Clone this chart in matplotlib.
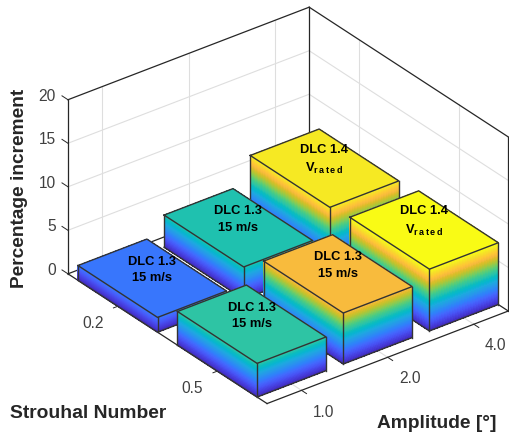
import numpy as np
import matplotlib
matplotlib.use('Agg')
import matplotlib.pyplot as plt
from matplotlib.colors import LinearSegmentedColormap, Normalize
from mpl_toolkits.mplot3d import proj3d

plt.rcParams['font.family'] = ['Liberation Sans', 'DejaVu Sans']
plt.rcParams['mathtext.fontset'] = 'custom'
plt.rcParams['mathtext.bf'] = 'Liberation Sans:bold'
plt.rcParams['mathtext.rm'] = 'Liberation Sans'

# data
strouhal = ['0.2', '0.5']
amplitude = ['1.0', '2.0', '4.0']
increment = [[1.7, 3.7, 6.75],   # St 0.2
             [3.87, 5.86, 7.1]]  # St 0.5
vrated = 'DLC 1.4\n$\\mathbf{V_{r\\,a\\,t\\,e\\,d}}$'
labels = [['DLC 1.3\n15 m/s', 'DLC 1.3\n15 m/s', vrated],
          ['DLC 1.3\n15 m/s', 'DLC 1.3\n15 m/s', vrated]]
z_ticks = [0, 5, 10, 15, 20]

# parula, index in the 64 entry table -> colour
parula_idx = [0, 4, 9, 13, 17, 21, 25, 28, 31, 34, 37, 40, 43, 46, 49, 52, 55, 58, 61, 63]
parula_rgb = [
    (0.2422, 0.1504, 0.6603), (0.2706, 0.2147, 0.8364), (0.2810, 0.3228, 0.9579),
    (0.2602, 0.4123, 0.9952), (0.1834, 0.5074, 0.9798), (0.1540, 0.5902, 0.9218),
    (0.1113, 0.6635, 0.8763), (0.0297, 0.7082, 0.8163), (0.0433, 0.7411, 0.7394),
    (0.1717, 0.7670, 0.6554), (0.2470, 0.7918, 0.5567), (0.3909, 0.8029, 0.4354),
    (0.5616, 0.7942, 0.3045), (0.7242, 0.7698, 0.1910), (0.8634, 0.7406, 0.1596),
    (0.9728, 0.7298, 0.2394), (0.9952, 0.7893, 0.2028), (0.9676, 0.8639, 0.1643),
    (0.9628, 0.9373, 0.1265), (0.9769, 0.9839, 0.0805)]
parula = LinearSegmentedColormap.from_list(
    'parula', [(i / 63, c) for i, c in zip(parula_idx, parula_rgb)], N=256)

W, H = 509, 433
fig = plt.figure(figsize=(W / 100, H / 100), dpi=100)
S = 475.4
ax = fig.add_axes([44 / W, -16.5 / H, S / W, S / H], projection='3d', proj_type='ortho')
ax.computed_zorder = False
ax.view_init(elev=30, azim=-37.5)
ax.set_box_aspect((327, 304, 201))
ax.set_xticks([])
ax.set_yticks([])
ax.set_zticks([])
ax.set_axis_off()

xlim = (0.5, 2.5)
ylim = (0.6, 3.4)
zlim = (0, 20)
ax.set_xlim(*xlim)
ax.set_ylim(*ylim)
ax.set_zlim(*zlim)
norm = Normalize(0, np.max(increment))
half = 0.4
dark = (0.15, 0.15, 0.15)
tickc = (0.25, 0.25, 0.25)
gridc = (0.87, 0.87, 0.87)


def label3d(x, y, z, s, **kw):
    # flat text at the projected spot of a 3D point
    px, py, _ = proj3d.proj_transform(x, y, z, ax.get_proj())
    ax.text2D(px, py, s, transform=ax.transData, clip_on=False, **kw)


# grid on floor and two back walls
xt = np.arange(1, len(strouhal) + 1)
yt = np.arange(1, len(amplitude) + 1)
for x in xt:
    ax.plot([x, x], ylim, [0, 0], color=gridc, lw=0.8, zorder=1)
    ax.plot([x, x], [ylim[1]] * 2, zlim, color=gridc, lw=0.8, zorder=1)
for y in yt:
    ax.plot(xlim, [y, y], [0, 0], color=gridc, lw=0.8, zorder=1)
    ax.plot([xlim[0]] * 2, [y, y], zlim, color=gridc, lw=0.8, zorder=1)
for z in z_ticks[1:-1]:
    ax.plot([xlim[0]] * 2, ylim, [z, z], color=gridc, lw=0.8, zorder=1)
    ax.plot(xlim, [ylim[1]] * 2, [z, z], color=gridc, lw=0.8, zorder=1)

# box edges
x0, x1 = xlim
y0, y1 = ylim
for px, py, pz in [([x0, x0], [y0, y0], zlim), ([x0, x0], [y1, y1], zlim),
                   ([x1, x1], [y1, y1], zlim),
                   ([x0, x0], ylim, [20, 20]), (xlim, [y1, y1], [20, 20]),
                   ([x0, x0], ylim, [0, 0]), (xlim, [y1, y1], [0, 0]),
                   (xlim, [y0, y0], [0, 0]), ([x1, x1], ylim, [0, 0])]:
    ax.plot(px, py, pz, color=dark, lw=0.9, zorder=2)

# ticks
for z in z_ticks:
    ax.plot([x0, x0 - 0.06], [y0, y0], [z, z], color=dark, lw=0.7, zorder=2)
    label3d(x0 - 0.08, y0 - 0.05, z, str(z), ha='right', va='center', fontsize=11.2, color=tickc)
for x, lab in zip(xt, strouhal):
    ax.plot([x, x], [y0, y0 - 0.05], [0, 0], color=dark, lw=0.7, zorder=2)
    label3d(x, y0 - 0.29, -0.85, lab, ha='center', va='center', fontsize=11.2, color=tickc)
for y, lab in zip(yt, amplitude):
    ax.plot([x1, x1 + 0.05], [y, y], [0, 0], color=dark, lw=0.7, zorder=2)
    label3d(x1 + 0.22, y, -0.85, lab, ha='center', va='center', fontsize=11.2, color=tickc)

# bars, back to front
order = 10
for i, x in enumerate(xt):
    for j in range(len(yt) - 1, -1, -1):
        y = yt[j]
        h = increment[i][j]
        xa, xb, ya, yb = x - half, x + half, y - half, y + half
        zz = np.linspace(0, h, 60)
        cols = parula(norm(0.5 * (zz[:-1] + zz[1:])))[:, None, :]
        # y = ya face
        X, Z = np.meshgrid([xa, xb], zz)
        ax.plot_surface(X, np.full_like(X, ya), Z, facecolors=cols, rstride=1, cstride=1,
                        shade=False, antialiased=False, linewidth=0, zorder=order)
        # x = xb face
        Y, Z = np.meshgrid([ya, yb], zz)
        ax.plot_surface(np.full_like(Y, xb), Y, Z, facecolors=cols, rstride=1, cstride=1,
                        shade=False, antialiased=False, linewidth=0, zorder=order)
        # top
        X, Y = np.meshgrid([xa, xb], [ya, yb])
        ax.plot_surface(X, Y, np.full_like(X, h), color=parula(norm(h)), shade=False,
                        antialiased=False, linewidth=0, zorder=order)
        order += 1
        edges = [([xa, xb, xb, xa, xa], [ya, ya, yb, yb, ya], [h] * 5),
                 ([xa, xa], [ya, ya], [0, h]), ([xb, xb], [ya, ya], [0, h]),
                 ([xb, xb], [yb, yb], [0, h]), ([xa, xb, xb], [ya, ya, yb], [0, 0, 0])]
        for ex, ey, ez in edges:
            ax.plot(ex, ey, ez, color=(0.2, 0.2, 0.2), lw=1.0, zorder=order)
        order += 1

for i, x in enumerate(xt):
    for j, y in enumerate(yt):
        label3d(x, y, increment[i][j] + 0.95, labels[i][j], ha='center', va='center',
                fontsize=9.3, fontweight='bold', color='k', linespacing=1.5, zorder=500)

ax.set_xlim(*xlim)
ax.set_ylim(*ylim)
ax.set_zlim(*zlim)

fig.text(20 / W, 1 - 188 / H, 'Percentage increment', rotation=90, ha='center', va='center',
         fontsize=13.8, fontweight='bold', color=dark)
fig.text(88.5 / W, 1 - 413.5 / H, 'Strouhal Number', ha='center', va='center',
         fontsize=13.9, fontweight='bold', color=dark)
fig.text(437 / W, 1 - 423 / H, 'Amplitude [°]', ha='center', va='center',
         fontsize=13.8, fontweight='bold', color=dark)

fig.savefig('out.png', dpi=100)
